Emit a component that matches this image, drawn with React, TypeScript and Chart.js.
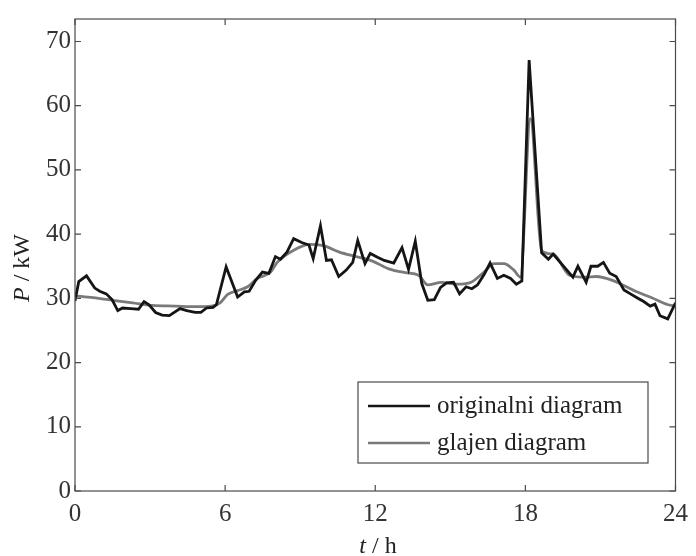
import React, { useEffect, useRef } from "react";
import { Chart, registerables } from "chart.js";

Chart.register(...registerables);

// Hourly load profile: measured power and its smoothed version
const tOriginal = [
  0.0, 0.15, 0.46, 0.79, 0.99, 1.25, 1.48, 1.71, 1.9, 2.23, 2.54, 2.76, 2.96, 3.22, 3.48, 3.77,
  4.2, 4.47, 4.8, 5.03, 5.26, 5.52, 5.65, 6.04, 6.5, 6.77, 6.96, 7.22, 7.49, 7.75, 8.01, 8.21,
  8.47, 8.74, 9.06, 9.35, 9.52, 9.81, 10.05, 10.25, 10.54, 10.84, 11.1, 11.3, 11.59, 11.8,
  12.09, 12.36, 12.74, 13.07, 13.33, 13.6, 13.86, 14.1, 14.36, 14.61, 14.85, 15.13, 15.37,
  15.63, 15.86, 16.09, 16.35, 16.59, 16.88, 17.14, 17.41, 17.64, 17.86, 18.15, 18.65, 18.92,
  19.11, 19.9, 20.1, 20.43, 20.62, 20.89, 21.12, 21.37, 21.63, 21.94, 22.2, 22.46, 22.73,
  22.99, 23.18, 23.38, 23.69, 24.0,
];
const pOriginal = [
  29.6, 32.6, 33.5, 31.6, 31.1, 30.7, 29.8, 28.1, 28.5, 28.4, 28.3, 29.5, 29.0, 27.8, 27.4, 27.3,
  28.4, 28.1, 27.8, 27.8, 28.5, 28.6, 29.0, 34.9, 30.2, 31.0, 31.1, 32.8, 34.1, 33.9, 36.5, 36.1,
  37.2, 39.3, 38.7, 38.3, 36.2, 41.3, 35.9, 36.0, 33.4, 34.4, 35.6, 39.0, 35.4, 37.0,
  36.4, 35.9, 35.5, 37.9, 34.5, 38.9, 32.3, 29.7, 29.8, 31.7, 32.4, 32.5, 30.7,
  31.8, 31.5, 32.1, 33.7, 35.5, 33.1, 33.6, 33.1, 32.2, 32.7, 67.1, 37.1, 36.1,
  36.9, 33.3, 35.0, 32.5, 35.0, 35.0, 35.6, 33.9, 33.4, 31.3, 30.7, 30.1, 29.5,
  28.8, 29.1, 27.3, 26.8, 29.3,
];

const tSmooth = [
  0.0, 0.72, 1.51, 2.3, 3.09, 4.0, 4.8, 5.45, 5.8, 6.1, 6.5, 6.9, 7.29, 7.82, 8.08, 8.74, 9.39,
  9.92, 10.57, 11.23, 11.89, 12.54, 13.2, 13.73, 14.1, 14.65, 15.3, 15.83, 16.35, 16.75, 17.14,
  17.54, 17.8, 18.2, 18.65, 19.11, 19.77, 20.43, 20.82, 21.48, 22.4, 23.05, 23.71, 24.0,
];
const pSmooth = [
  30.4, 30.1, 29.7, 29.3, 28.9, 28.8, 28.7, 28.8, 29.3, 30.6, 31.2, 31.8, 33.1, 34.1, 35.6, 37.5, 38.4,
  38.2, 37.2, 36.5, 35.8, 34.6, 34.0, 33.6, 32.1, 32.5, 32.2, 32.5, 34.1, 35.4, 35.4,
  34.4, 33.3, 58.0, 37.4, 36.9, 33.6, 33.3, 33.4, 32.8, 31.1, 30.1, 29.0, 28.8,
];

const xTicks = [0, 6, 12, 18, 24];
const yTicks = [0, 10, 20, 30, 40, 50, 60, 70];
const legendLabels = ["originalni diagram", "glajen diagram"];

const FONT = '"Liberation Serif", "Times New Roman", Times, serif';
const BLACK = "#151515";
const GREY = "#7a7a7a";
const FRAME = "#4a4a4a";

const toPoints = (xs: number[], ys: number[]) => xs.map((x, i) => ({ x, y: ys[i] }));

// Frame, inward tick marks, axis titles and legend box
const decorations = {
  id: "decorations",
  afterDraw(chart: any) {
    const { ctx, chartArea, scales } = chart;
    const { left, right, top, bottom } = chartArea;
    const xs = scales.x;
    const ys = scales.y;
    ctx.save();

    ctx.strokeStyle = FRAME;
    ctx.lineWidth = 1.2;
    ctx.strokeRect(left, top, right - left, bottom - top);

    const tl = 6;
    ctx.beginPath();
    xTicks.forEach((v) => {
      const px = xs.getPixelForValue(v);
      ctx.moveTo(px, bottom);
      ctx.lineTo(px, bottom - tl);
      ctx.moveTo(px, top);
      ctx.lineTo(px, top + tl);
    });
    yTicks.forEach((v) => {
      const py = ys.getPixelForValue(v);
      ctx.moveTo(left, py);
      ctx.lineTo(left + tl, py);
      ctx.moveTo(right, py);
      ctx.lineTo(right - tl, py);
    });
    ctx.stroke();

    // axis titles with italic symbols
    ctx.fillStyle = "#222";
    ctx.textBaseline = "alphabetic";
    const drawMixed = (parts: [string, boolean][], cx: number, cy: number) => {
      let total = 0;
      parts.forEach(([s, it]) => {
        ctx.font = `${it ? "italic " : ""}24px ${FONT}`;
        total += ctx.measureText(s).width;
      });
      let x = cx - total / 2;
      parts.forEach(([s, it]) => {
        ctx.font = `${it ? "italic " : ""}24px ${FONT}`;
        ctx.textAlign = "left";
        ctx.fillText(s, x, cy);
        x += ctx.measureText(s).width;
      });
    };
    drawMixed([["t", true], [" / h", false]], 378, 553);
    ctx.save();
    ctx.translate(29, 268);
    ctx.rotate(-Math.PI / 2);
    drawMixed([["P", true], [" / kW", false]], 0, 0);
    ctx.restore();

    // legend
    const bx = 358, by = 382, bw = 290, bh = 81;
    ctx.fillStyle = "#fff";
    ctx.fillRect(bx, by, bw, bh);
    ctx.strokeStyle = FRAME;
    ctx.lineWidth = 1.2;
    ctx.strokeRect(bx, by, bw, bh);
    const rows = [406, 443];
    const colors = [BLACK, GREY];
    rows.forEach((ry, i) => {
      ctx.strokeStyle = colors[i];
      ctx.lineWidth = 2.6;
      ctx.beginPath();
      ctx.moveTo(368, ry);
      ctx.lineTo(430, ry);
      ctx.stroke();
      ctx.fillStyle = "#222";
      ctx.font = `25px ${FONT}`;
      ctx.textAlign = "left";
      ctx.textBaseline = "middle";
      ctx.fillText(legendLabels[i], 437, ry);
    });
    ctx.restore();
  },
};

export default function App() {
  const canvasRef = useRef<HTMLCanvasElement | null>(null);

  useEffect(() => {
    if (!canvasRef.current) return;
    const chart = new Chart(canvasRef.current, {
      type: "scatter",
      data: {
        datasets: [
          {
            label: legendLabels[0],
            data: toPoints(tOriginal, pOriginal),
            showLine: true,
            borderColor: BLACK,
            borderWidth: 2.8,
            pointRadius: 0,
            tension: 0,
            order: 0,
          },
          {
            label: legendLabels[1],
            data: toPoints(tSmooth, pSmooth),
            showLine: true,
            borderColor: GREY,
            borderWidth: 2.8,
            pointRadius: 0,
            cubicInterpolationMode: "monotone",
            order: 1,
          },
        ],
      },
      options: {
        responsive: false,
        animation: false,
        layout: { padding: { top: 7.5, right: 12, left: 0, bottom: 0 } },
        plugins: { legend: { display: false }, tooltip: { enabled: false } },
        scales: {
          x: {
            type: "linear",
            min: 0,
            max: 24,
            grid: { display: false, drawTicks: false },
            border: { display: false },
            afterBuildTicks: (s: any) => {
              s.ticks = xTicks.map((v) => ({ value: v }));
            },
            afterFit: (s: any) => {
              s.height = 65;
            },
            ticks: {
              padding: 8,
              color: "#333",
              font: { family: FONT, size: 25 },
              maxRotation: 0,
            },
          },
          y: {
            type: "linear",
            min: 0,
            max: 73.5,
            grid: { display: false, drawTicks: false },
            border: { display: false },
            afterBuildTicks: (s: any) => {
              s.ticks = yTicks.map((v) => ({ value: v }));
            },
            afterFit: (s: any) => {
              s.width = 75;
            },
            ticks: {
              padding: 4,
              color: "#333",
              font: { family: FONT, size: 25 },
            },
          },
        },
      },
      plugins: [decorations],
    });
    return () => chart.destroy();
  }, []);

  return (
    <div style={{ position: "fixed", left: 0, top: 0, width: 696, height: 556, background: "#fff" }}>
      <canvas ref={canvasRef} width={696} height={556} style={{ display: "block" }} />
    </div>
  );
}
